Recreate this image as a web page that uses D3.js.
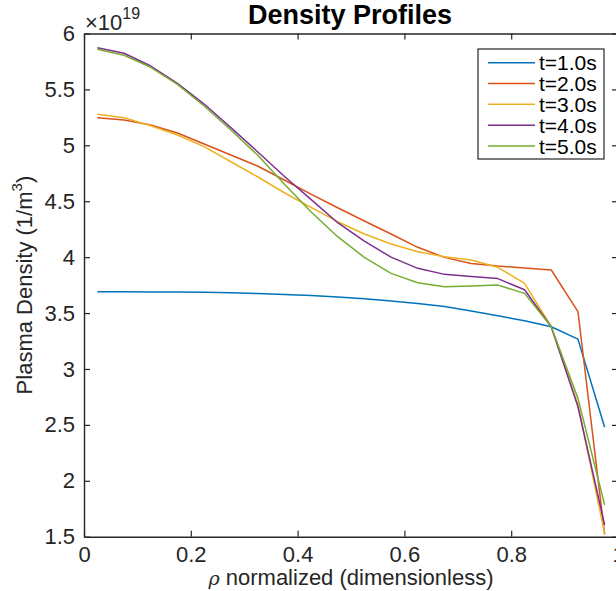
<!DOCTYPE html>
<html>
<head>
<meta charset="utf-8">
<script src="https://cdn.jsdelivr.net/npm/d3@7"></script>
<style>
  html, body { margin: 0; padding: 0; background: #fff; }
  svg { display: block; font-family: "Liberation Sans", Arial, Helvetica, sans-serif; }
</style>
</head>
<body>
<svg id="chart" width="616" height="591"></svg>
<script>
// ---- data (density in units of 1e19 m^-3) ----
const rho = [0.025, 0.075, 0.125, 0.175, 0.225, 0.275, 0.325, 0.375, 0.425, 0.475,
             0.525, 0.575, 0.625, 0.675, 0.725, 0.775, 0.825, 0.875, 0.925, 0.975];
const seriesNames = ["t=1.0s", "t=2.0s", "t=3.0s", "t=4.0s", "t=5.0s"];
const t1 = [3.690, 3.690, 3.689, 3.688, 3.685, 3.681, 3.675, 3.666, 3.656, 3.643,
            3.627, 3.608, 3.586, 3.558, 3.518, 3.476, 3.431, 3.378, 3.267, 2.478];
const t2 = [5.247, 5.226, 5.182, 5.110, 5.012, 4.913, 4.815, 4.690, 4.564, 4.442,
            4.323, 4.207, 4.088, 3.998, 3.944, 3.920, 3.902, 3.885, 3.512, 1.520];
const t3 = [5.277, 5.247, 5.175, 5.092, 4.988, 4.853, 4.719, 4.576, 4.445, 4.317,
            4.207, 4.117, 4.049, 4.004, 3.974, 3.909, 3.766, 3.378, 2.680, 1.530];
const t4 = [5.873, 5.823, 5.709, 5.554, 5.369, 5.158, 4.943, 4.723, 4.517, 4.308,
            4.144, 4.000, 3.900, 3.846, 3.828, 3.808, 3.708, 3.378, 2.662, 1.604];
const t5 = [5.859, 5.805, 5.698, 5.545, 5.352, 5.137, 4.913, 4.654, 4.406, 4.183,
            3.998, 3.855, 3.771, 3.735, 3.741, 3.750, 3.676, 3.378, 2.737, 1.783];
const xTicks = [0, 0.2, 0.4, 0.6, 0.8, 1];
const yTicks = [1.5, 2, 2.5, 3, 3.5, 4, 4.5, 5, 5.5, 6];
const colors = ["#0072BD", "#D95319", "#EDB120", "#7E2F8E", "#77AC30"];

const series = [t1, t2, t3, t4, t5];

// ---- layout ----
const svg = d3.select("#chart");
const L = 84, R = 618, T = 33.5, B = 536.7;
const axisColor = "#262626";

const x = d3.scaleLinear().domain([0, 1]).range([L, R]);
const y = d3.scaleLinear().domain([1.5, 6]).range([B, T]);

const fmt = d => (d === 0 ? "0" : d === 1 ? "1" : String(d));

// data lines
const line = d3.line().x((d, i) => x(rho[i])).y(d => y(d));
series.forEach((s, k) => {
  svg.append("path")
    .attr("d", line(s))
    .attr("fill", "none")
    .attr("stroke", colors[k])
    .attr("stroke-width", 1.5)
    .attr("stroke-linejoin", "round");
});

// axes
const tickLen = 6;
const gx = svg.append("g").attr("transform", `translate(0,${B})`)
  .call(d3.axisBottom(x).tickValues(xTicks).tickFormat(fmt).tickSizeInner(-tickLen).tickSizeOuter(0).tickPadding(10));
const gxTop = svg.append("g").attr("transform", `translate(0,${T})`)
  .call(d3.axisTop(x).tickValues(xTicks).tickFormat("").tickSizeInner(-tickLen).tickSizeOuter(0));
const gy = svg.append("g").attr("transform", `translate(${L},0)`)
  .call(d3.axisLeft(y).tickValues(yTicks).tickFormat(d3.format("")).tickSizeInner(-tickLen).tickSizeOuter(0).tickPadding(9));
const gyR = svg.append("g").attr("transform", `translate(${R},0)`)
  .call(d3.axisRight(y).tickValues(yTicks).tickFormat("").tickSizeInner(-tickLen).tickSizeOuter(0));

[gx, gxTop, gy, gyR].forEach(g => {
  g.select(".domain").attr("stroke", axisColor).attr("stroke-width", 1.4);
  g.selectAll(".tick line").attr("stroke", axisColor).attr("stroke-width", 1.2);
  g.selectAll(".tick text").attr("fill", axisColor)
    .attr("font-size", 22).attr("font-family", "Liberation Sans, Arial, sans-serif");
});

// exponent label
const ex = svg.append("text").attr("x", L + 1).attr("y", 30)
  .attr("fill", axisColor).attr("font-size", 22);
ex.append("tspan").attr("font-weight", 300).text("\u00D7");
ex.append("tspan").text("10");
ex.append("tspan").attr("font-size", 16).attr("dy", -11).text("19");

// title
svg.append("text").attr("x", (L + R) / 2 - 1).attr("y", 23.5)
  .attr("text-anchor", "middle").attr("font-weight", "bold")
  .attr("font-size", 27).attr("fill", "#000").text("Density Profiles");

// x label
const xl = svg.append("text").attr("x", (L + R) / 2).attr("y", 585)
  .attr("text-anchor", "middle").attr("font-size", 22).attr("fill", axisColor);
xl.append("tspan").attr("font-style", "italic").attr("font-family", "DejaVu Serif, serif").attr("font-size", 19).text("\u03C1");
xl.append("tspan").text(" normalized (dimensionless)");

// y label
const yl = svg.append("text")
  .attr("transform", `translate(32,${(T + B) / 2}) rotate(-90)`)
  .attr("text-anchor", "middle").attr("font-size", 22).attr("fill", axisColor);
yl.append("tspan").text("Plasma Density (1/m");
yl.append("tspan").attr("font-size", 15).attr("dy", -10).text("3");
yl.append("tspan").attr("dy", 10).text(")");

// legend
const lg = svg.append("g");
const lgX = 478, lgY = 49, lgW = 126, lgH = 110;
lg.append("rect").attr("x", lgX).attr("y", lgY).attr("width", lgW).attr("height", lgH)
  .attr("fill", "#fff").attr("stroke", axisColor).attr("stroke-width", 1.2);
const rowY = d3.scaleLinear().domain([0, 4]).range([lgY + 13.7, lgY + 97]);
seriesNames.forEach((name, k) => {
  const yy = rowY(k);
  lg.append("line").attr("x1", lgX + 10).attr("x2", lgX + 57)
    .attr("y1", yy).attr("y2", yy).attr("stroke", colors[k]).attr("stroke-width", 1.5);
  lg.append("text").attr("x", lgX + 61).attr("y", yy).attr("dy", "0.36em")
    .attr("font-size", 21).attr("fill", "#000").text(name);
});
</script>
</body>
</html>
